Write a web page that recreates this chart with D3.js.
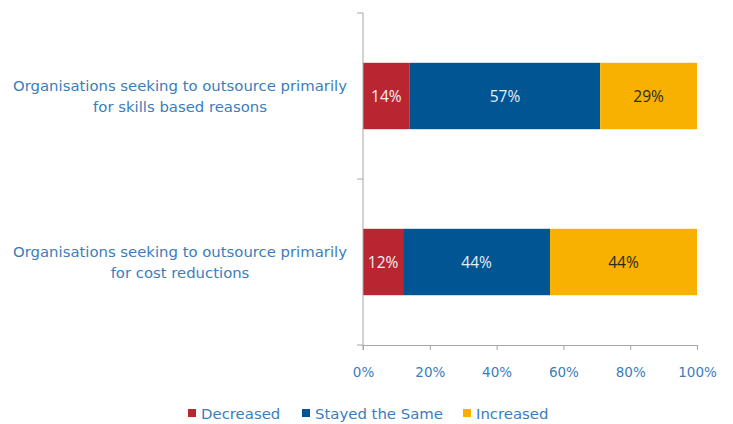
<!DOCTYPE html>
<html>
<head>
<meta charset="utf-8">
<script src="https://cdn.jsdelivr.net/npm/d3@7"></script>
<style>
  body { margin: 0; background: #fff; }
  svg { display: block; }
</style>
</head>
<body>
<svg id="chart" width="733" height="424"></svg>
<script>
// Categories (top to bottom) and their wrapped label lines
const categories = [
  "Organisations seeking to outsource primarily for skills based reasons",
  "Organisations seeking to outsource primarily for cost reductions"
];
const categoryLines = [
  ["Organisations seeking to outsource primarily", "for skills based reasons"],
  ["Organisations seeking to outsource primarily", "for cost reductions"]
];
const seriesNames = ["Decreased", "Stayed the Same", "Increased"];
const decreased = [14, 12];
const stayedSame = [57, 44];
const increased = [29, 44];
const tickValues = [0, 20, 40, 60, 80, 100];

const colors = ["#BA2532", "#015592", "#F8B100"];
const labelColors = ["#F2F2F2", "#E6EEF6", "#2B2B1A"];
const textBlue = "#3B7DBB";
const axisGray = "#A6A6A6";
const textFont = "DejaVu Sans, Verdana, sans-serif";

const svg = d3.select("#chart");
const margin = { left: 363, right: 36, top: 13, bottom: 79 };
const W = 733, H = 424;

const x = d3.scaleLinear().domain([0, 100]).range([margin.left, W - margin.right]);
const y = d3.scaleBand().domain(categories).range([margin.top, H - margin.bottom]).paddingInner(0.6).paddingOuter(0.3);
const yOuter = d3.scaleBand().domain(categories).range([margin.top, H - margin.bottom]);

const rows = categories.map((c, i) => ({ cat: c, values: [decreased[i], stayedSame[i], increased[i]] }));
const stack = d3.stack().keys([0, 1, 2]).value((d, k) => d.values[k]);
const layers = stack(rows);

// Bars
const g = svg.append("g");
layers.forEach((layer, k) => {
  g.selectAll(null).data(layer).enter().append("rect")
    .attr("x", d => x(d[0]))
    .attr("width", d => x(d[1]) - x(d[0]))
    .attr("y", d => y(d.data.cat))
    .attr("height", y.bandwidth())
    .attr("fill", colors[k]);
  g.selectAll(null).data(layer).enter().append("text")
    .attr("x", d => (x(d[0]) + x(d[1])) / 2)
    .attr("y", d => y(d.data.cat) + y.bandwidth() / 2)
    .attr("dy", "0.36em")
    .attr("text-anchor", "middle")
    .attr("font-family", "Open Sans, Liberation Sans, sans-serif")
    .attr("font-size", 15.5)
    .attr("fill", labelColors[k])
    .text(d => (d[1] - d[0]) + "%");
});

// Bottom axis
const xAxis = d3.axisBottom(x).tickValues(tickValues).tickFormat(d => d + "%").tickSize(5).tickSizeOuter(0);
const gx = svg.append("g").attr("transform", `translate(0,${H - margin.bottom})`).call(xAxis);
gx.select(".domain").attr("stroke", axisGray);
gx.selectAll(".tick line").attr("stroke", axisGray);
gx.selectAll(".tick text")
  .attr("fill", textBlue)
  .attr("font-family", textFont)
  .attr("font-size", 13.5)
  .attr("dy", "1.8em");

// Left axis: category boundaries as ticks
const gy = svg.append("g");
gy.append("line")
  .attr("x1", x(0)).attr("x2", x(0))
  .attr("y1", margin.top).attr("y2", H - margin.bottom + 5)
  .attr("stroke", axisGray);
const bounds = categories.map(c => yOuter(c)).concat([H - margin.bottom]);
gy.selectAll(null).data(bounds).enter().append("line")
  .attr("x1", x(0) - 6).attr("x2", x(0))
  .attr("y1", d => d).attr("y2", d => d)
  .attr("stroke", axisGray);

// Category labels
categories.forEach((c, i) => {
  const cy = y(c) + y.bandwidth() / 2;
  const t = svg.append("text")
    .attr("x", 180)
    .attr("text-anchor", "middle")
    .attr("font-family", textFont)
    .attr("font-size", 14.85)
    .attr("fill", textBlue);
  categoryLines[i].forEach((line, j) => {
    t.append("tspan")
      .attr("x", 180)
      .attr("y", cy - 10 + j * 21 + 5)
      .text(line);
  });
});

// Legend
const legendX = [188, 302, 463];
const lg = svg.append("g");
seriesNames.forEach((name, k) => {
  lg.append("rect")
    .attr("x", legendX[k]).attr("y", 409)
    .attr("width", 8).attr("height", 8)
    .attr("fill", colors[k]);
  lg.append("text")
    .attr("x", legendX[k] + 13).attr("y", 419)
    .attr("font-family", textFont)
    .attr("font-size", 14.9)
    .attr("fill", textBlue)
    .text(name);
});
</script>
</body>
</html>
